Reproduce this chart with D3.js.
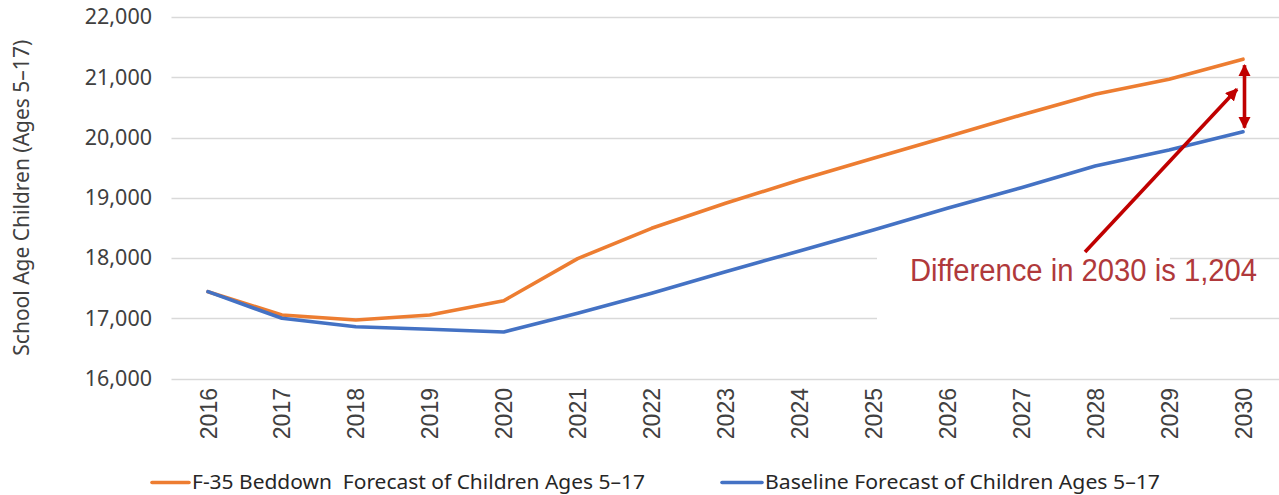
<!DOCTYPE html>
<html>
<head>
<meta charset="utf-8">
<script src="https://cdn.jsdelivr.net/npm/d3@7"></script>
<style>
  html, body { margin: 0; padding: 0; background: #fff; }
  svg { display: block; }
</style>
</head>
<body>
<svg id="chart" width="1279" height="495"></svg>
<script>
// School-age children forecast, 2016–2030
const years = ["2016","2017","2018","2019","2020","2021","2022","2023","2024","2025","2026","2027","2028","2029","2030"];
const beddown = [17441, 17054, 16971, 17054, 17291, 17990, 18493, 18908, 19295, 19655, 20013, 20373, 20717, 20966, 21300];
const baseline = [17441, 16999, 16860, 16817, 16772, 17082, 17414, 17773, 18116, 18465, 18825, 19167, 19527, 19793, 20096];
const yTicks = [16000, 17000, 18000, 19000, 20000, 21000, 22000];
const seriesNames = ["F-35 Beddown  Forecast of Children Ages 5\u201317", "Baseline Forecast of Children Ages 5\u201317"];
const seriesColors = ["#ED7D31", "#4472C4"];
const diffYear = "2030";
const diffLabel = "Difference in 2030 is 1,204";

const svg = d3.select("#chart");

const x = d3.scalePoint().domain(years).range([208, 1243]);
const y = d3.scaleLinear().domain([16000, 22000]).range([378.5, 17]);

// horizontal gridlines
svg.append("g")
  .selectAll("line")
  .data(yTicks)
  .join("line")
  .attr("x1", 171.5).attr("x2", 1279)
  .attr("y1", d => Math.round(y(d)) + 0.5).attr("y2", d => Math.round(y(d)) + 0.5)
  .attr("stroke", "#D9D9D9").attr("stroke-width", 1.3);

// y axis labels
const yAxis = d3.axisLeft(y).tickValues(yTicks).tickFormat(d3.format(",")).tickSize(0).tickPadding(0);
const gy = svg.append("g").attr("transform", "translate(152,0)").call(yAxis);
gy.select(".domain").remove();
gy.selectAll("text")
  .attr("font-family", "'Noto Sans', sans-serif")
  .attr("font-size", 21.5)
  .attr("fill", "#404040");

// x axis labels, rotated
const xAxis = d3.axisBottom(x).tickSize(0).tickPadding(0);
const gx = svg.append("g").attr("transform", "translate(0,388)").call(xAxis);
gx.select(".domain").remove();
gx.selectAll("text")
  .attr("font-family", "'Liberation Sans', Arial, sans-serif")
  .attr("font-size", 23)
  .attr("fill", "#404040")
  .attr("text-anchor", "end")
  .attr("dy", "0.35em")
  .attr("transform", "rotate(-90)")
  .attr("x", 0).attr("y", 0);

// y axis title
svg.append("text")
  .attr("transform", `translate(29,${(y(16000) + y(22000)) / 2}) rotate(-90)`)
  .attr("text-anchor", "middle")
  .attr("font-family", "'Noto Sans', sans-serif")
  .attr("font-size", 21)
  .attr("fill", "#404040")
  .text("School Age Children (Ages 5\u201317)");

// white box behind the annotation text
svg.append("rect")
  .attr("x", 877).attr("y", 246)
  .attr("width", 293).attr("height", 82)
  .attr("fill", "#fff");

// series lines
const line = d3.line().x((d, i) => x(years[i])).y(d => y(d));
[beddown, baseline].forEach((vals, k) => {
  svg.append("path")
    .datum(vals)
    .attr("d", line)
    .attr("fill", "none")
    .attr("stroke", seriesColors[k])
    .attr("stroke-width", 3.6)
    .attr("stroke-linejoin", "round")
    .attr("stroke-linecap", "round");
});

// annotation arrows
const red = "#C00000";
const defs = svg.append("defs");
defs.append("marker")
  .attr("id", "head")
  .attr("viewBox", "0 0 10 10")
  .attr("refX", 9).attr("refY", 5)
  .attr("markerWidth", 3.4).attr("markerHeight", 3.4)
  .attr("markerUnits", "strokeWidth")
  .attr("orient", "auto-start-reverse")
  .append("path")
  .attr("d", "M0,0 L10,5 L0,10 Z")
  .attr("fill", red);

const iDiff = years.indexOf(diffYear);
const ax = x(diffYear) + 1.5;
svg.append("line")
  .attr("x1", ax).attr("x2", ax)
  .attr("y1", y(beddown[iDiff]) + 6)
  .attr("y2", y(baseline[iDiff]) - 4)
  .attr("stroke", red).attr("stroke-width", 3.6)
  .attr("marker-start", "url(#head)")
  .attr("marker-end", "url(#head)");

svg.append("line")
  .attr("x1", 1085).attr("y1", 252)
  .attr("x2", x(diffYear) - 6).attr("y2", y(21000) + 12)
  .attr("stroke", red).attr("stroke-width", 3.6)
  .attr("marker-end", "url(#head)");

// annotation text
svg.append("text")
  .attr("x", 910).attr("y", 281)
  .attr("font-family", "'Liberation Sans', Arial, sans-serif")
  .attr("font-size", 31)
  .attr("fill", "#B0393B")
  .attr("textLength", 347)
  .attr("lengthAdjust", "spacingAndGlyphs")
  .text(diffLabel);

// legend
const legendX = [[152, 192, 453], [722, 765, 395]];
seriesNames.forEach((name, k) => {
  const [sx, tx, tl] = legendX[k];
  svg.append("line")
    .attr("x1", sx).attr("x2", tx - 3)
    .attr("y1", 482.5).attr("y2", 482.5)
    .attr("stroke", seriesColors[k]).attr("stroke-width", 3.6)
    .attr("stroke-linecap", "round");
  svg.append("text")
    .attr("x", tx).attr("y", 489)
    .attr("xml:space", "preserve")
    .style("white-space", "pre")
    .attr("font-family", "'Noto Sans', sans-serif")
    .attr("font-size", 20)
    .attr("fill", "#262626")
    .attr("textLength", tl)
    .attr("lengthAdjust", "spacingAndGlyphs")
    .text(name);
});
</script>
</body>
</html>
